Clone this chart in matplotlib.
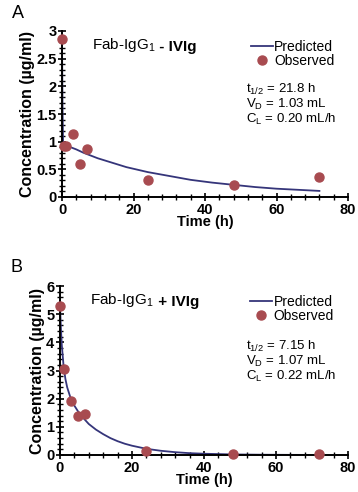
import numpy as np
import matplotlib
matplotlib.use("Agg")
import matplotlib.pyplot as plt
from matplotlib.ticker import MultipleLocator

plt.rcParams['font.family'] = ['Liberation Sans', 'DejaVu Sans']
plt.rcParams['mathtext.fontset'] = 'custom'
plt.rcParams['mathtext.rm'] = 'Liberation Sans'
plt.rcParams['mathtext.bf'] = 'Liberation Sans:bold'
plt.rcParams['mathtext.default'] = 'regular'

# Panel A: Fab-IgG1 - IVIg
obs_t_a = [0, 0.5, 1, 3, 5, 7, 24, 48, 72]
obs_c_a = [2.85, 0.93, 0.93, 1.14, 0.59, 0.87, 0.30, 0.21, 0.37]
pred_t_a = [0, 0.15, 0.3, 0.5, 1, 2, 4, 6, 8, 10, 14, 18, 24, 30, 36, 42, 48, 54, 60, 66, 72]
pred_c_a = [2.85, 1.6, 0.98, 0.95, 0.93, 0.91, 0.86, 0.80, 0.75, 0.70, 0.62, 0.54, 0.45, 0.38, 0.31, 0.26, 0.22, 0.18, 0.15, 0.13, 0.11]
params_a = ["21.8 h", "1.03 mL", "0.20 mL/h"]

# Panel B: Fab-IgG1 + IVIg
obs_t_b = [0, 1, 3, 5, 7, 24, 48, 72]
obs_c_b = [5.3, 3.07, 1.9, 1.38, 1.47, 0.14, 0.03, 0.03]
pred_t_b = [0, 0.25, 0.5, 1, 1.5, 2, 3, 4, 5, 6, 7, 8, 10, 12, 14, 16, 18, 20, 24, 28, 32, 36, 40, 48, 56, 64, 72]
pred_c_b = [5.3, 4.5, 3.9, 3.15, 2.7, 2.4, 2.0, 1.75, 1.55, 1.38, 1.24, 1.1, 0.9, 0.74, 0.6, 0.49, 0.4, 0.33, 0.22, 0.15, 0.1, 0.065, 0.045, 0.02, 0.01, 0.005, 0.003]
params_b = ["7.15 h", "1.07 mL", "0.22 mL/h"]

line_col = '#35357a'
dot_col = '#a84b50'

W, H = 358, 492
fig = plt.figure(figsize=(W / 100, H / 100), dpi=100)


def panel(rect, letter, sign, obs_t, obs_c, pred_t, pred_c, params, ymax, ymaj, ymin):
    l, r, b, t = rect
    ax = fig.add_axes([l / W, 1 - b / H, (r - l) / W, (b - t) / H])
    ax.plot(pred_t, pred_c, color=line_col, lw=1.3, label='Predicted', zorder=2)
    ax.plot(obs_t, obs_c, 'o', color=dot_col, mec=dot_col, ms=6.5, label='Observed', zorder=3, clip_on=False)
    ax.set_xlim(0, 80)
    ax.set_ylim(0, ymax)
    ax.xaxis.set_major_locator(MultipleLocator(20))
    ax.xaxis.set_minor_locator(MultipleLocator(4))
    ax.yaxis.set_major_locator(MultipleLocator(ymaj))
    ax.yaxis.set_minor_locator(MultipleLocator(ymin))
    ax.yaxis.set_major_formatter(plt.FuncFormatter(lambda v, p: f"{v:g}"))
    for s in ['top', 'right']:
        ax.spines[s].set_visible(False)
    for s in ['left', 'bottom']:
        ax.spines[s].set_linewidth(1.4)
    ax.tick_params(which='major', direction='inout', length=6, width=1.2, labelsize=10.5, pad=1)
    ax.tick_params(which='minor', direction='inout', length=4.5, width=1.0)
    for lab in ax.get_xticklabels() + ax.get_yticklabels():
        lab.set_fontweight('bold')
    ax.set_xlabel('Time (h)', fontsize=10.5, fontweight='bold', labelpad=-1)
    ax.set_ylabel('Concentration (µg/ml)', fontsize=11.5, fontweight='bold', labelpad=1)

    t1 = ax.text(0.105, 0.915, 'Fab-IgG$_1$', transform=ax.transAxes, fontsize=11, va='center')
    ax.annotate(' ' + sign + ' IVIg', xy=(1, 0), xycoords=t1, va='bottom', fontsize=11, fontweight='bold')

    ax.legend(loc='upper left', bbox_to_anchor=(0.64, 0.98), frameon=False, fontsize=10,
              handlelength=1.6, handletextpad=0.1, labelspacing=0.0, borderaxespad=0)
    labels = ['t$_{1/2}$ = ', 'V$_D$ = ', 'C$_L$ = ']
    for i, (lb, v) in enumerate(zip(labels, params)):
        ax.text(0.645, 0.645 - i * 0.09, lb + v, transform=ax.transAxes, fontsize=9.5, va='center')
    fig.text((l - 50) / W, 1 - (t - 18) / H, letter, fontsize=13, va='center', ha='left')
    return ax


panel((62, 348, 197, 31), 'A', '-', obs_t_a, obs_c_a, pred_t_a, pred_c_a, params_a, 3, 0.5, 0.1)
panel((60, 348, 455, 286), 'B', '+', obs_t_b, obs_c_b, pred_t_b, pred_c_b, params_b, 6, 1, 0.2)

fig.savefig('out.png', dpi=100)
